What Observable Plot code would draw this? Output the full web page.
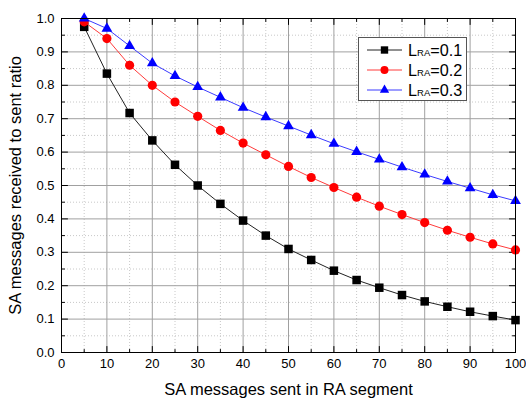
<!DOCTYPE html>
<html><head><meta charset="utf-8">
<script src="https://cdn.jsdelivr.net/npm/d3@7"></script>
<script src="https://cdn.jsdelivr.net/npm/@observablehq/plot@0.6"></script>
<style>
body{margin:0;background:#fff;font-family:"Liberation Sans",Arial,sans-serif;}
#wrap{position:relative;width:526px;height:402px;}
#legend{position:absolute;left:358px;top:37px;}
</style>
</head><body>
<div id="wrap"><div id="chart"></div><div id="legend"></div></div>
<script>
const xValues = [5,10,15,20,25,30,35,40,45,50,55,60,65,70,75,80,85,90,95,100];
const seriesL01 = [0.975,0.835,0.717,0.635,0.562,0.500,0.445,0.395,0.350,0.310,0.277,0.245,0.217,0.194,0.172,0.153,0.137,0.122,0.109,0.097];
const seriesL02 = [0.990,0.940,0.860,0.800,0.750,0.707,0.665,0.627,0.592,0.557,0.524,0.494,0.465,0.438,0.413,0.389,0.366,0.345,0.325,0.307];
const seriesL03 = [1.000,0.970,0.918,0.866,0.828,0.795,0.764,0.733,0.705,0.678,0.651,0.625,0.601,0.578,0.555,0.533,0.512,0.492,0.472,0.454];
const seriesNames = ["0.1","0.2","0.3"];
const seriesColors = ["#000000","#ff0000","#0000ff"];
const lineColors = ["#222222","#ff3b3b","#3b3bff"];
const seriesSymbols = ["square","circle","triangle"];
const xMajor = [0,10,20,30,40,50,60,70,80,90,100];
const xMinor = [5,15,25,35,45,55,65,75,85,95];
const yMajor = [0,0.1,0.2,0.3,0.4,0.5,0.6,0.7,0.8,0.9,1.0];
const yMinor = [0.05,0.15,0.25,0.35,0.45,0.55,0.65,0.75,0.85,0.95];
const xTitle = "SA messages sent in RA segment";
const yTitle = "SA messages received to sent ratio";
const legendPrefix = "L";
const legendSub = "RA";

const allSeries = [seriesL01, seriesL02, seriesL03];
const rows = [];
allSeries.forEach((s, i) => s.forEach((v, j) => rows.push({x: xValues[j], y: v, k: seriesNames[i]})));

const tickShape = {draw(ctx, l) { ctx.moveTo(0, 0); ctx.lineTo(0, -l); }};
const tickOpts = {stroke: "black", strokeWidth: 1, shape: tickShape, anchor: "start"};

const dotR = {square: 4.8, circle: 4.6, triangle: 4.0};
const marks = [
  Plot.ruleX(xMinor, {stroke: "#c8c8c8", strokeDasharray: "1,2"}),
  Plot.ruleY(yMinor, {stroke: "#c8c8c8", strokeDasharray: "1,2"}),
  Plot.ruleX(xMajor, {stroke: "#a0a0a0"}),
  Plot.ruleY(yMajor, {stroke: "#a0a0a0"}),
  Plot.vector(xMajor, {x: d => d, frameAnchor: "bottom", rotate: 0, length: 6, ...tickOpts}),
  Plot.vector(xMinor, {x: d => d, frameAnchor: "bottom", rotate: 0, length: 3, ...tickOpts}),
  Plot.vector(xMajor, {x: d => d, frameAnchor: "top", rotate: 180, length: 6, ...tickOpts}),
  Plot.vector(xMinor, {x: d => d, frameAnchor: "top", rotate: 180, length: 3, ...tickOpts}),
  Plot.vector(yMajor, {y: d => d, frameAnchor: "left", rotate: 90, length: 6, ...tickOpts}),
  Plot.vector(yMinor, {y: d => d, frameAnchor: "left", rotate: 90, length: 3, ...tickOpts}),
  Plot.vector(yMajor, {y: d => d, frameAnchor: "right", rotate: -90, length: 6, ...tickOpts}),
  Plot.vector(yMinor, {y: d => d, frameAnchor: "right", rotate: -90, length: 3, ...tickOpts}),
  Plot.axisX({ticks: xMajor, tickSize: 0, tickPadding: 6, fontSize: 13, label: null, tickFormat: d3.format("d")}),
  Plot.axisY({ticks: yMajor, tickSize: 0, tickPadding: 7, fontSize: 13, label: null, tickFormat: d3.format(".1f")}),
  Plot.text([xTitle], {frameAnchor: "bottom", dy: 37, fontSize: 16.5, textAnchor: "middle", lineAnchor: "middle", fill: "black"}),
  Plot.text([yTitle], {frameAnchor: "left", rotate: -90, dx: -46, fontSize: 16.5, textAnchor: "middle", lineAnchor: "middle", fill: "black"})
];
seriesNames.forEach((n, i) => {
  const d = rows.filter(r => r.k === n);
  marks.push(Plot.line(d, {x: "x", y: "y", stroke: lineColors[i], strokeWidth: 1}));
  marks.push(Plot.dot(d, {x: "x", y: "y", symbol: seriesSymbols[i], r: dotR[seriesSymbols[i]], fill: seriesColors[i], stroke: "none"}));
});
marks.push(Plot.frame({stroke: "black", strokeWidth: 1}));

const chart = Plot.plot({
  width: 526, height: 402,
  marginLeft: 61, marginRight: 11, marginTop: 18, marginBottom: 50,
  x: {domain: [0, 100]},
  y: {domain: [0, 1]},
  style: {fontFamily: "'Liberation Sans', Arial, sans-serif", background: "white", color: "black"},
  marks
});
document.getElementById("chart").appendChild(chart);

// legend box
const lw = 109, lh = 64;
const svg = d3.select("#legend").append("svg").attr("width", lw).attr("height", lh)
  .style("font-family", "'Liberation Sans', Arial, sans-serif");
svg.append("rect").attr("x", 0.5).attr("y", 0.5).attr("width", lw - 1).attr("height", lh - 1)
  .attr("fill", "white").attr("stroke", "#555");
const symTypes = [d3.symbolSquare, d3.symbolCircle, d3.symbolTriangle];
seriesNames.forEach((n, i) => {
  const cy = 13 + i * 20;
  const g = svg.append("g").attr("transform", `translate(0,${cy})`);
  g.append("line").attr("x1", 9).attr("x2", 44).attr("y1", 0).attr("y2", 0).attr("stroke", lineColors[i]);
  g.append("path").attr("transform", "translate(26.5,0)")
    .attr("d", d3.symbol(symTypes[i], Math.PI * dotR[seriesSymbols[i]] ** 2 * 0.75)())
    .attr("fill", seriesColors[i]);
  const t = g.append("text").attr("x", 50).attr("y", 5.8).attr("font-size", 16.2).attr("fill", "black");
  t.append("tspan").text(legendPrefix);
  t.append("tspan").attr("font-size", 9.5).text(legendSub);
  t.append("tspan").text("=" + n);
});
</script>
</body></html>
